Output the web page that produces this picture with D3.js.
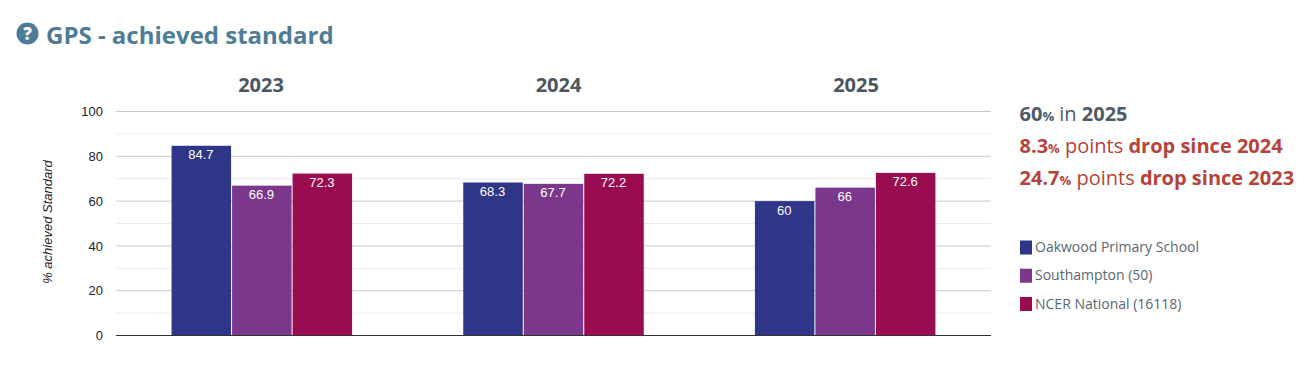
<!DOCTYPE html>
<html>
<head>
<meta charset="utf-8">
<title>GPS - achieved standard</title>
<script src="https://cdn.jsdelivr.net/npm/d3@7/dist/d3.min.js"></script>
<style>
  html, body { margin:0; padding:0; background:#fff; overflow:hidden; }
  svg { display:block; }
  .ui { font-family:"Open Sans", sans-serif; }
  .chart { font-family:"Liberation Sans", Arial, sans-serif; }
</style>
</head>
<body>
<div id="chart"></div>
<script>
// Data
var years = ["2023", "2024", "2025"];
var seriesNames = ["Oakwood Primary School", "Southampton (50)", "NCER National (16118)"];
var seriesColors = ["#303687", "#7a378c", "#990c50"];
var oakwood = [84.7, 68.3, 60];
var southampton = [66.9, 67.7, 66];
var national = [72.3, 72.2, 72.6];
var majorTicks = [0, 20, 40, 60, 80, 100];
var minorTicks = [10, 30, 50, 70, 90];
var seriesValues = [oakwood, southampton, national];

var width = 1312, height = 366;
var plot = {left:116, right:991, top:111.5, bottom:335.5};

var svg = d3.select("#chart").append("svg")
    .attr("width", width)
    .attr("height", height);

// Escalas
var y = d3.scaleLinear().domain([0, 100]).range([plot.bottom, plot.top]);
var x0 = d3.scaleBand().domain(years).range([plot.left + 0.5, plot.right + 0.5]).paddingInner(0.3777).paddingOuter(0.18885);
var x1 = d3.scaleBand().domain(seriesNames).range([0, x0.bandwidth()]);
var yearHeader = d3.scalePoint().domain(years).range([261, 856]);

// Titulo
svg.append("circle")
    .attr("cx", 27.5).attr("cy", 33.5).attr("r", 11)
    .attr("fill", "#4e7c96");
svg.append("text").attr("class", "ui")
    .attr("x", 27.5).attr("y", 39.5)
    .attr("text-anchor", "middle")
    .attr("font-size", 17).attr("font-weight", 800)
    .attr("fill", "#fff")
    .text("?");
svg.append("text").attr("class", "ui")
    .attr("x", 46).attr("y", 44)
    .attr("font-size", 24).attr("font-weight", 700)
    .attr("fill", "#4e7c96")
    .text("GPS - achieved standard");

// Años
svg.selectAll(".yearHead").data(years).enter()
  .append("text")
    .attr("class", "yearHead ui")
    .attr("x", function(d) { return yearHeader(d); })
    .attr("y", 92)
    .attr("text-anchor", "middle")
    .attr("font-size", 20).attr("font-weight", 700)
    .attr("fill", "#4b5560")
    .text(function(d) { return d; });

// Rejilla
svg.selectAll(".minor").data(minorTicks).enter()
  .append("line")
    .attr("class", "minor")
    .attr("x1", plot.left).attr("x2", plot.right)
    .attr("y1", function(d) { return y(d); })
    .attr("y2", function(d) { return y(d); })
    .attr("stroke", "#ebebeb");

svg.selectAll(".major").data(majorTicks.slice(1)).enter()
  .append("line")
    .attr("class", "major")
    .attr("x1", plot.left).attr("x2", plot.right)
    .attr("y1", function(d) { return y(d); })
    .attr("y2", function(d) { return y(d); })
    .attr("stroke", "#c8c8c8");

// Eje Y
var yAxis = svg.append("g")
    .attr("class", "chart")
    .attr("transform", "translate(" + plot.left + ",0)")
    .call(d3.axisLeft(y).tickValues(majorTicks).tickSize(0).tickPadding(13));
yAxis.select(".domain").remove();
yAxis.selectAll("text")
    .attr("font-family", "Liberation Sans, Arial, sans-serif")
    .attr("font-size", 13)
    .attr("fill", "#222");

svg.append("text").attr("class", "chart")
    .attr("transform", "translate(52,222) rotate(-90)")
    .attr("text-anchor", "middle")
    .attr("font-size", 13).attr("font-style", "italic")
    .attr("fill", "#222")
    .text("% achieved Standard");

// Barras
var groups = svg.selectAll(".group").data(years).enter()
  .append("g")
    .attr("class", "group")
    .attr("transform", function(d) { return "translate(" + x0(d) + ",0)"; });

seriesNames.forEach(function(name, s) {
  groups.append("rect")
      .attr("x", x1(name))
      .attr("y", function(d, i) { return y(seriesValues[s][i]); })
      .attr("width", x1.bandwidth() - 1)
      .attr("height", function(d, i) { return plot.bottom - y(seriesValues[s][i]); })
      .attr("fill", seriesColors[s]);

  groups.append("text")
      .attr("class", "chart")
      .attr("x", x1(name) + (x1.bandwidth() - 1) / 2 - 0.5)
      .attr("y", function(d, i) { return y(seriesValues[s][i]) + 13.5; })
      .attr("text-anchor", "middle")
      .attr("font-size", 13)
      .attr("fill", "#fff")
      .text(function(d, i) { return seriesValues[s][i]; });
});

svg.append("line")
    .attr("x1", plot.left).attr("x2", plot.right)
    .attr("y1", plot.bottom).attr("y2", plot.bottom)
    .attr("stroke", "#333");

// Resumen
var summary = svg.append("g").attr("class", "ui");
var latest = oakwood[2];
var drop2024 = "8.3", drop2023 = "24.7";

function summaryLine(yPos, color, parts) {
  var t = summary.append("text").attr("x", 1019.5).attr("y", yPos).attr("font-size", 20).attr("fill", color);
  parts.forEach(function(p) {
    t.append("tspan")
        .attr("font-weight", p[1] ? 700 : 400)
        .attr("font-size", p[2] || 20)
        .text(p[0]);
  });
}
summaryLine(121, "#4b5b68", [[latest, true], ["%", true, 13], [" in ", false], [years[2], true]]);
summaryLine(153, "#b5433a", [[drop2024, true], ["%", true, 13], [" points ", false], ["drop since " + years[1], true]]);
summaryLine(185, "#b5433a", [[drop2023, true], ["%", true, 13], [" points ", false], ["drop since " + years[0], true]]);

// Leyenda
var legendY = d3.scalePoint().domain(seriesNames).range([247.5, 304]);
var legend = svg.selectAll(".legendItem").data(seriesNames).enter()
  .append("g")
    .attr("class", "legendItem ui")
    .attr("transform", function(d) { return "translate(1020," + legendY(d) + ")"; });
legend.append("rect")
    .attr("x", 0).attr("y", -7)
    .attr("width", 12).attr("height", 14)
    .attr("fill", function(d, i) { return seriesColors[i]; });
legend.append("text")
    .attr("x", 15).attr("y", 4.5)
    .attr("font-size", 14)
    .attr("fill", "#5a6670")
    .text(function(d) { return d; });
</script>
</body>
</html>
